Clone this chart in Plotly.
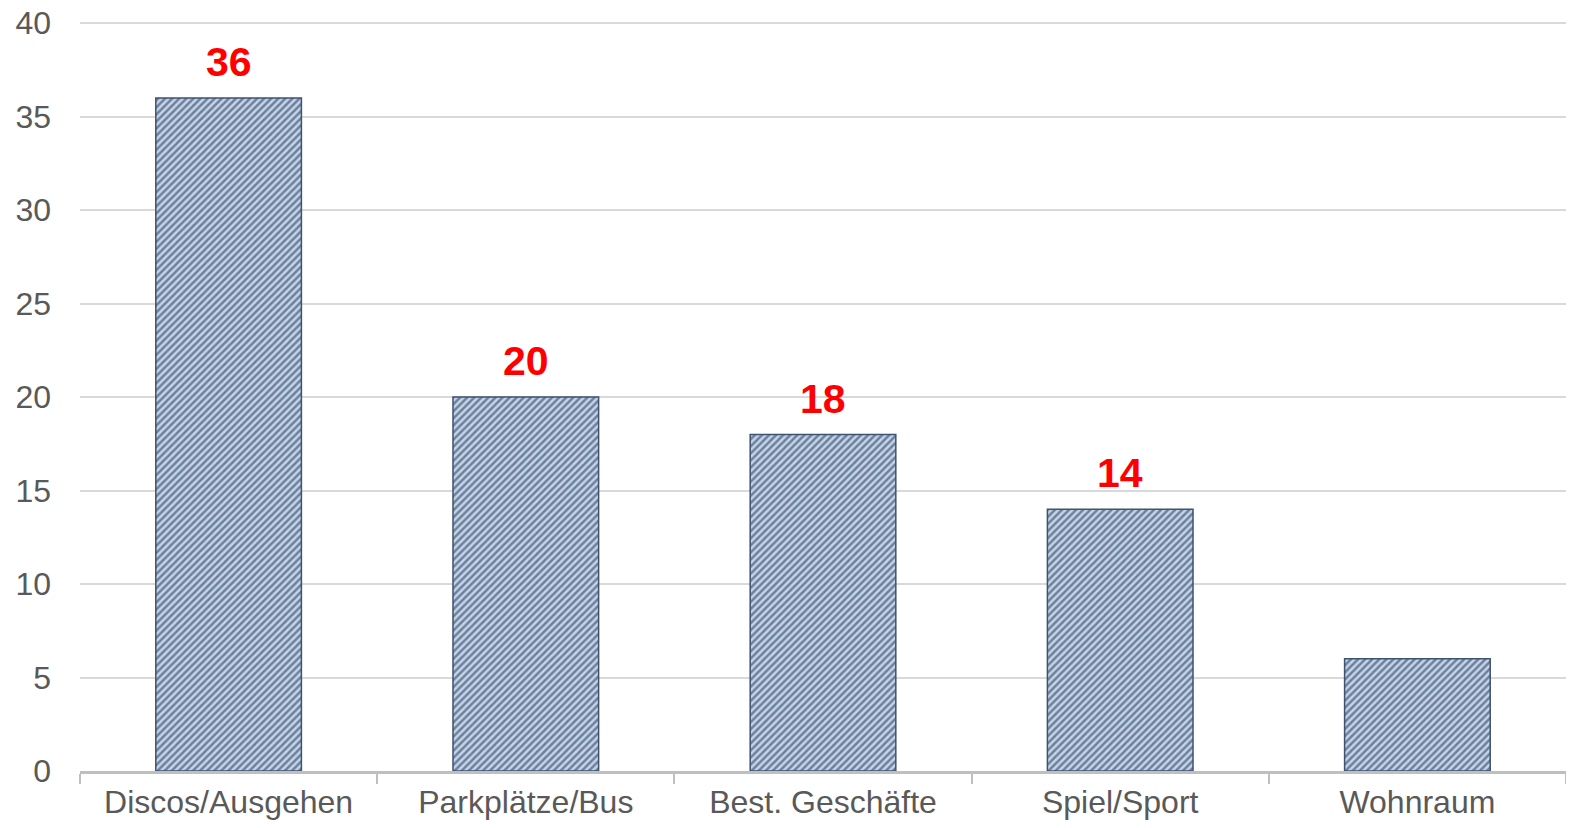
import plotly.graph_objects as go

categories = ['Discos/Ausgehen', 'Parkplätze/Bus', 'Best. Geschäfte', 'Spiel/Sport', 'Wohnraum']
values = [36, 20, 18, 14, 6]
labels = ['36', '20', '18', '14', '']
y_ticks = [0, 5, 10, 15, 20, 25, 30, 35, 40]

fig = go.Figure()
fig.add_trace(go.Bar(
    x=categories, y=values, width=0.49,
    marker=dict(color='#c3d5ec', line=dict(color='#3f5270', width=1.5),
                pattern=dict(shape='/', fgcolor='#1c2a42', bgcolor='#c3d5ec',
                             size=5, solidity=0.5)),
    hoverinfo='skip'))

for c, v, t in zip(categories, values, labels):
    if t:
        fig.add_annotation(x=c, y=v, text='<b>%s</b>' % t, showarrow=False,
                           yanchor='bottom', yshift=11,
                           font=dict(color='#ff0000', size=41, family='Liberation Sans'))

# page body has an 8px margin, so the figure is a bit smaller than the window
fig.update_layout(
    width=1558, height=812, plot_bgcolor='white', paper_bgcolor='white',
    margin=dict(l=72, r=0, t=13, b=49), showlegend=False, bargap=0.51,
    font=dict(family='Liberation Sans', size=32, color='#595959'),
    xaxis=dict(tickson='boundaries', ticks='outside', ticklen=10, tickwidth=2,
               tickcolor='#bfbfbf', showline=True, linecolor='#bfbfbf', linewidth=3,
               ticklabelstandoff=1, showgrid=False, automargin=False,
               tickfont=dict(size=32, color='#595959')),
    yaxis=dict(range=[0, 40.12], tickvals=y_ticks, showgrid=True, gridcolor='#d9d9d9',
               gridwidth=1.5, zeroline=False, showline=False, ticks='', automargin=False,
               ticklabelstandoff=28, ticklabeloverflow='allow',
               tickfont=dict(size=32, color='#595959')),
)
fig.write_html("out.html")
